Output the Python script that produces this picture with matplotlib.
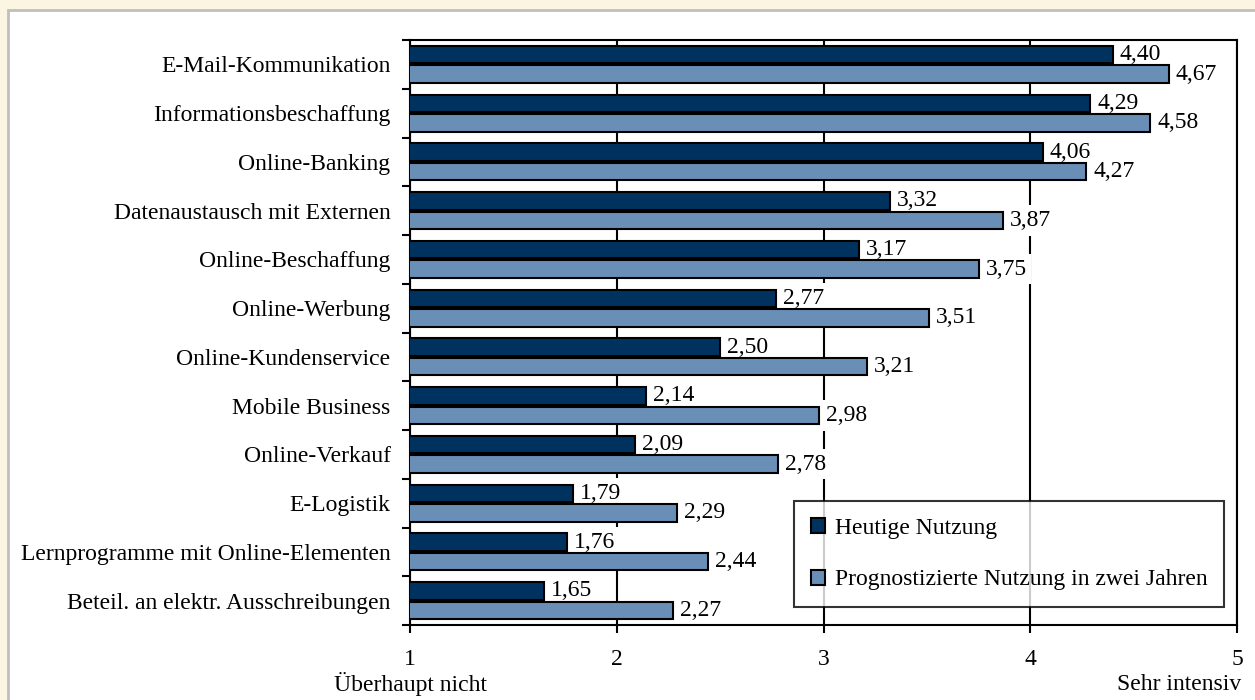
import matplotlib
matplotlib.use("Agg")
import matplotlib.pyplot as plt
import numpy as np
from matplotlib.patches import Rectangle
from matplotlib.transforms import blended_transform_factory

plt.rcParams["font.family"] = ["Liberation Serif", "DejaVu Serif"]

categories = [
    "E-Mail-Kommunikation",
    "Informationsbeschaffung",
    "Online-Banking",
    "Datenaustausch mit Externen",
    "Online-Beschaffung",
    "Online-Werbung",
    "Online-Kundenservice",
    "Mobile Business",
    "Online-Verkauf",
    "E-Logistik",
    "Lernprogramme mit Online-Elementen",
    "Beteil. an elektr. Ausschreibungen",
]
heutige = [4.40, 4.29, 4.06, 3.32, 3.17, 2.77, 2.50, 2.14, 2.09, 1.79, 1.76, 1.65]
prognose = [4.67, 4.58, 4.27, 3.87, 3.75, 3.51, 3.21, 2.98, 2.78, 2.29, 2.44, 2.27]
series_names = ["Heutige Nutzung", "Prognostizierte Nutzung in zwei Jahren"]
x_ticks = [1, 2, 3, 4, 5]
x_end_labels = ["Überhaupt nicht", "Sehr intensiv"]

DARK = "#00325F"
LIGHT = "#698FB7"
FS = 17

fig = plt.figure(figsize=(12.55, 7.0), dpi=100)
fig.patch.set_facecolor("#FBF5E2")
# white chart panel with a grey frame
fig.patches.append(Rectangle((8 / 1255, -0.05), 1.1, (690 / 700) + 0.05,
                             transform=fig.transFigure, facecolor="white",
                             edgecolor="#BFBFBF", linewidth=2, zorder=-10))

ax = fig.add_axes([410 / 1255, 75 / 700, 827 / 1255, 585 / 700])
ax.set_zorder(2)
ax.set_facecolor("white")

y = np.arange(len(categories))
h = 0.36
b1 = ax.barh(y - 0.2, heutige, height=h, color=DARK, edgecolor="black",
             linewidth=1.5, zorder=3, label=series_names[0])
b2 = ax.barh(y + 0.2, prognose, height=h, color=LIGHT, edgecolor="black",
             linewidth=1.5, zorder=3, label=series_names[1])

for bars, vals in ((b1, heutige), (b2, prognose)):
    for rect, v in zip(bars, vals):
        ax.annotate(f"{v:.2f}".replace(".", ","),
                    xy=(v, rect.get_y() + rect.get_height() / 2),
                    xytext=(5, 0), textcoords="offset points",
                    ha="left", va="center", fontsize=FS, zorder=2,
                    bbox=dict(boxstyle="square,pad=0.2", facecolor="white",
                              edgecolor="none"))

ax.set_xlim(1, 5)
ax.set_ylim(len(categories) - 0.5, -0.5)

# vertical grid behind bars and labels
ax.set_axisbelow(True)
ax.xaxis.grid(True, color="black", linewidth=1.5, zorder=0)

ax.set_xticks(x_ticks)
ax.set_xticklabels([str(t) for t in x_ticks], fontsize=FS)
ax.tick_params(axis="x", direction="out", length=6, width=1.5, pad=11)

ax.set_yticks(np.arange(-0.5, len(categories)), minor=False)
ax.set_yticklabels([])
ax.set_yticks(y, minor=True)
ax.set_yticklabels(categories, minor=True, fontsize=FS)
ax.tick_params(axis="y", which="major", direction="out", length=6, width=1.5)
ax.tick_params(axis="y", which="minor", length=0, pad=14)

for s in ax.spines.values():
    s.set_linewidth(1.5)
    s.set_color("black")

tr = blended_transform_factory(ax.transData, fig.transFigure)
fig.text(1, 16 / 700, x_end_labels[0], transform=tr, ha="center",
         va="center", fontsize=FS)
fig.text(5.02, 16 / 700, x_end_labels[1], transform=tr, ha="right",
         va="center", fontsize=FS)

leg = ax.legend(loc="lower right", bbox_to_anchor=(0.984, 0.031),
                borderaxespad=0, fontsize=FS, frameon=True, fancybox=False,
                handlelength=0.6, handleheight=0.6, handletextpad=0.4,
                labelspacing=1.3, borderpad=0.7)
leg.get_frame().set_edgecolor("black")
leg.get_frame().set_linewidth(1.5)
leg.set_zorder(5)

fig.savefig("out.png", dpi=100, facecolor=fig.get_facecolor())
